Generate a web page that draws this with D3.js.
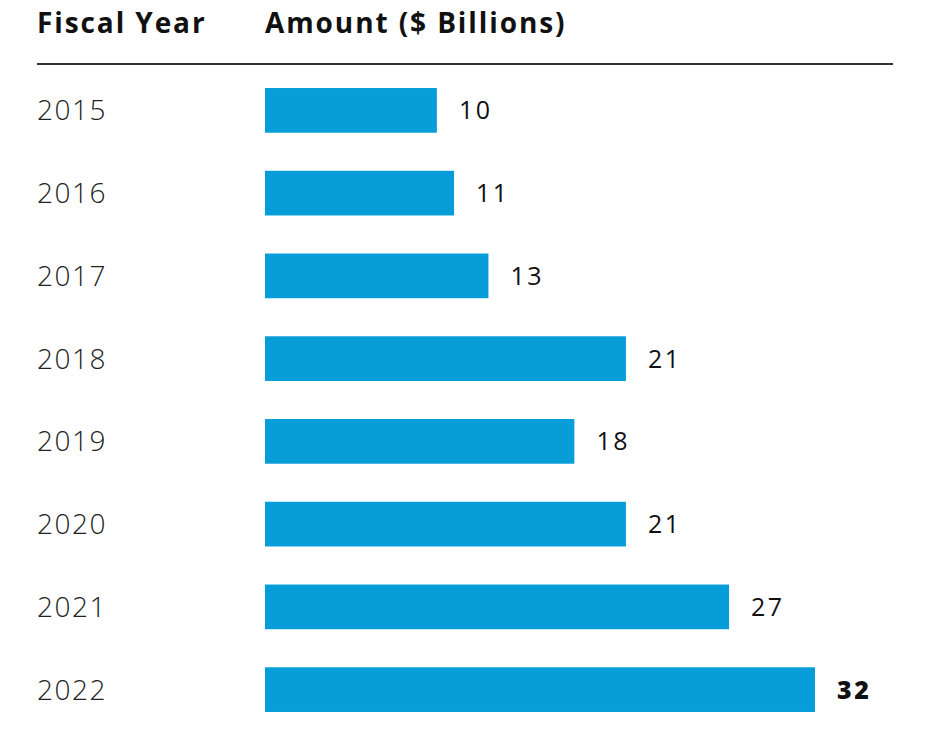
<!DOCTYPE html>
<html><head><meta charset="utf-8">
<script src="https://cdn.jsdelivr.net/npm/d3@7"></script>
<style>body{margin:0;background:#fff;}svg{display:block;}</style>
</head><body>
<script>
const years = ["2015","2016","2017","2018","2019","2020","2021","2022"];
const amounts = [10, 11, 13, 21, 18, 21, 27, 32];
const headers = ["Fiscal Year", "Amount ($ Billions)"];

const W = 932, H = 741;
const svg = d3.select("body").append("svg").attr("width", W).attr("height", H);

const x = d3.scaleLinear().domain([0, 32]).range([265, 815]);
const y = d3.scaleBand().domain(years).range([69, 731]).paddingInner(0.46).paddingOuter(0.23);

const font = "'Open Sans', Lato, sans-serif";
svg.append("text").attr("x", 37).attr("y", 33).text(headers[0])
  .attr("font-family", font).attr("font-weight", 700)
  .attr("font-size", 28).attr("fill", "#111").attr("letter-spacing", 1.9);
svg.append("text").attr("x", 265).attr("y", 33).text(headers[1])
  .attr("font-family", font).attr("font-weight", 700)
  .attr("font-size", 28).attr("fill", "#111").attr("letter-spacing", 1.9);

svg.append("line").attr("x1", 37).attr("x2", 893).attr("y1", 64).attr("y2", 64)
  .attr("stroke", "#333").attr("stroke-width", 2);

svg.selectAll("rect.bar").data(years).enter().append("rect").attr("class", "bar")
  .attr("x", x(0)).attr("y", d => y(d))
  .attr("width", (d, i) => x(amounts[i]) - x(0)).attr("height", y.bandwidth())
  .attr("fill", "#069dd8");

svg.selectAll("text.year").data(years).enter().append("text").attr("class", "year")
  .attr("x", 37).attr("y", d => y(d) + y.bandwidth() / 2).attr("dy", "0.36em")
  .text(d => d).attr("font-family", font).attr("font-weight", 300)
  .attr("font-size", 28).attr("fill", "#222").attr("letter-spacing", 1.5);

svg.selectAll("text.val").data(years).enter().append("text").attr("class", "val")
  .attr("x", (d, i) => x(amounts[i]) + 22).attr("y", d => y(d) + y.bandwidth() / 2).attr("dy", "0.36em")
  .text((d, i) => amounts[i])
  .attr("font-family", font)
  .attr("font-weight", (d, i) => i === years.length - 1 ? 800 : 400)
  .attr("font-size", 25).attr("fill", "#111").attr("letter-spacing", 2.5);
</script>
</body></html>
